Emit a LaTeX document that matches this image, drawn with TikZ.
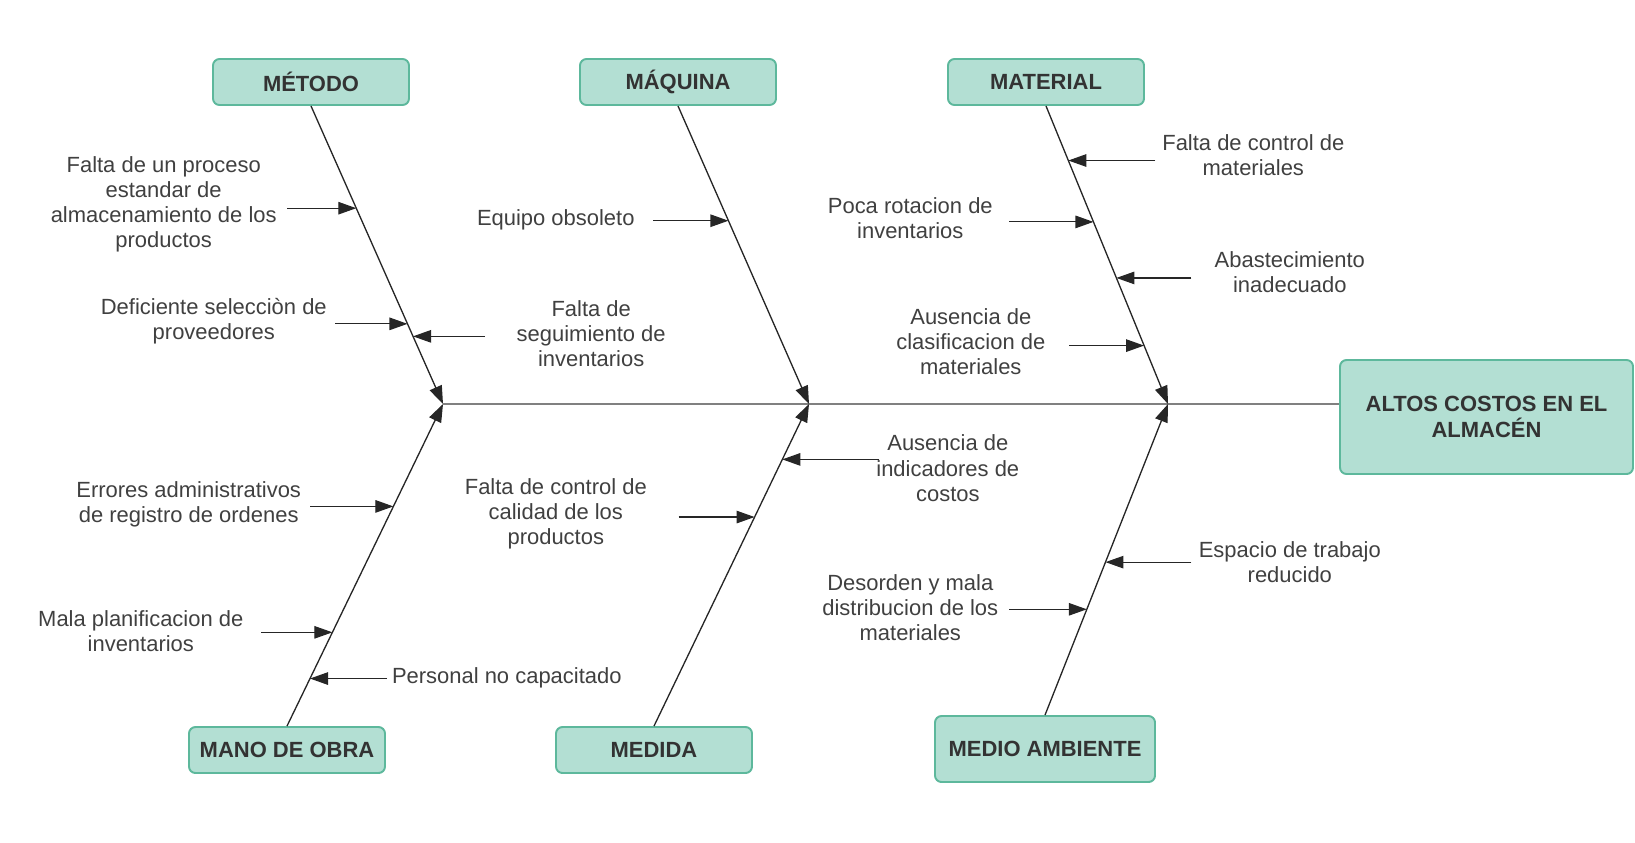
\documentclass[tikz,border=0pt]{standalone}
\usepackage{fontspec}
\setmainfont{Liberation Sans}
\usetikzlibrary{arrows.meta, calc}
\definecolor{boxfill}{HTML}{B3DFD3}
\definecolor{boxline}{HTML}{5DB89C}
\definecolor{txtgray}{HTML}{404040}

\begin{document}
\begin{tikzpicture}[x=0.2mm, y=-0.2mm,
  cat/.style={draw=boxline, fill=boxfill, line width=1.1pt, rounded corners=1.3mm, font=\bfseries\fontsize{12.5}{14.5}\selectfont, text=black!80, minimum height=9.2mm, minimum width=39.2mm},
  cause/.style={font=\fontsize{12.5}{14.3}\selectfont, text=txtgray, align=center, inner sep=1pt},
  bone/.style={line width=0.75pt, black!85, -{Triangle[length=3.6mm, width=2.6mm]}},
  twig/.style={line width=0.65pt, black!85, -{Triangle[length=3.6mm, width=2.5mm]}}]
\useasboundingbox (0,0) rectangle (1635,842);
% effect and spine
\node[cat, minimum width=58.6mm, minimum height=22.8mm, align=center] (efecto) at (1486.5,417) {ALTOS COSTOS EN EL\\ALMACÉN};
\coordinate (jm) at (443,404);
\coordinate (jq) at (809,404);
\coordinate (jt) at (1168,404);
\draw[black!50, line width=0.7pt] (jm) -- (efecto.west |- jm);
% category boxes
\node[cat] (metodo) at (311,82) {MÉTODO};
\node[cat] (maquina) at (678,82) {MÁQUINA};
\node[cat] (material) at (1046,82) {MATERIAL};
\node[cat] (mano) at (287,750) {MANO DE OBRA};
\node[cat] (medida) at (654,750) {MEDIDA};
\node[cat, minimum width=44mm, minimum height=13.2mm] (ambiente) at (1045,749) {MEDIO AMBIENTE};
% main bones
\draw[bone] (metodo.south) -- (jm);
\draw[bone] (maquina.south) -- (jq);
\draw[bone] (material.south) -- (jt);
\draw[bone] (mano.north) -- (jm);
\draw[bone] (medida.north) -- (jq);
\draw[bone] (ambiente.north) -- (jt);
% causes: metodo
\node[cause] (c1) at (163.7,204.4) {Falta de un proceso\\estandar de\\almacenamiento de los\\productos};
\node[cause] (c2) at (213.8,321.2) {Deficiente selecciòn de\\proveedores};
\node[cause] (c3) at (591.2,333.7) {Falta de\\seguimiento de\\inventarios};
\coordinate (p1) at ($(metodo.south)!0.343!(jm)$);
\coordinate (p2) at ($(metodo.south)!0.731!(jm)$);
\coordinate (p3) at ($(metodo.south)!0.773!(jm)$);
\draw[twig] ($(p1)+(-69,0)$) -- (p1);
\draw[twig] ($(p2)+(-72,0)$) -- (p2);
\draw[twig] ($(p3)+(72,0)$) -- (p3);
% causes: maquina
\node[cause] (c4) at (555.8,220) {Equipo obsoleto};
\coordinate (p4) at ($(maquina.south)!0.385!(jq)$);
\draw[twig] ($(p4)+(-75,0)$) -- (p4);
% causes: material
\node[cause] (c5) at (1253.3,155.4) {Falta de control de\\materiales};
\node[cause] (c6) at (910.3,217.9) {Poca rotacion de\\inventarios};
\node[cause] (c7) at (1289.8,272.1) {Abastecimiento\\inadecuado};
\node[cause] (c8) at (970.8,342) {Ausencia de\\clasificacion de\\materiales};
\coordinate (p5) at ($(material.south)!0.183!(jt)$);
\coordinate (p6) at ($(material.south)!0.389!(jt)$);
\coordinate (p7) at ($(material.south)!0.577!(jt)$);
\coordinate (p8) at ($(material.south)!0.804!(jt)$);
\draw[twig] ($(p5)+(87,0)$) -- (p5);
\draw[twig] ($(p6)+(-84,0)$) -- (p6);
\draw[twig] ($(p7)+(75,0)$) -- (p7);
\draw[twig] ($(p8)+(-75,0)$) -- (p8);
% causes: mano de obra
\node[cause] (c9) at (188.7,504.7) {Errores administrativos\\de registro de ordenes};
\node[cause] (c10) at (140.8,630.8) {Mala planificacion de\\inventarios};
\node[cause] (c11) at (506.8,677.8) {Personal no capacitado};
\coordinate (p9) at ($(mano.north)!0.682!(jm)$);
\coordinate (p10) at ($(mano.north)!0.291!(jm)$);
\coordinate (p11) at ($(mano.north)!0.1475!(jm)$);
\draw[twig] ($(p9)+(-83,0)$) -- (p9);
\draw[twig] ($(p10)+(-71,0)$) -- (p10);
\draw[twig] ($(p11)+(77,0)$) -- (p11);
% causes: medida
\node[cause] (c12) at (555.8,514) {Falta de control de\\calidad de los\\productos};
\node[cause] (c13) at (947.8,468.2) {Ausencia de\\indicadores de\\costos};
\coordinate (p12) at ($(medida.north)!0.649!(jq)$);
\coordinate (p13) at ($(medida.north)!0.828!(jq)$);
\draw[twig] ($(p12)+(-76,0)$) -- (p12);
\draw[twig] ($(p13)+(97,0)$) -- (p13);
% causes: medio ambiente
\node[cause] (c14) at (1289.8,562) {Espacio de trabajo\\reducido};
\node[cause] (c15) at (910.3,607.9) {Desorden y mala\\distribucion de los\\materiales};
\coordinate (p14) at ($(ambiente.north)!0.4916!(jt)$);
\coordinate (p15) at ($(ambiente.north)!0.34!(jt)$);
\draw[twig] ($(p14)+(86,0)$) -- (p14);
\draw[twig] ($(p15)+(-77.5,0)$) -- (p15);
\end{tikzpicture}
\end{document}
